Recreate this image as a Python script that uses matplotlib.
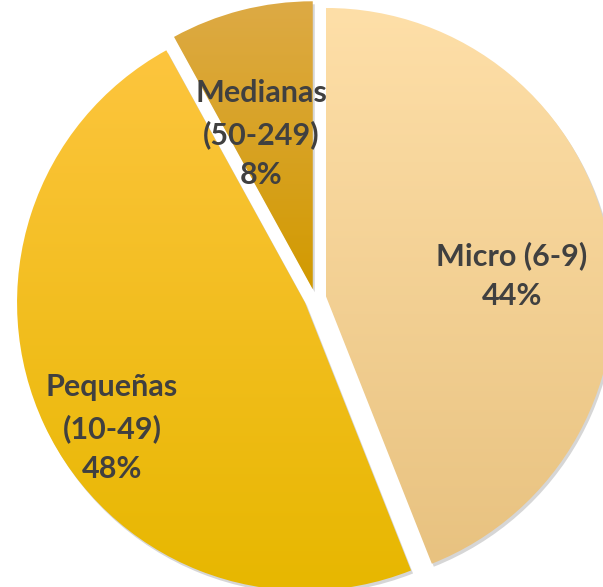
import matplotlib.pyplot as plt
import numpy as np
from matplotlib.colors import LinearSegmentedColormap

plt.rcParams['font.family'] = ['Lato', 'DejaVu Sans']

# datos
categorias = ["Micro (6-9)", "Pequeñas\n(10-49)", "Medianas\n(50-249)"]
porcentajes = [44, 48, 8]
color_arriba = ["#FEDFA8", "#FDC53E", "#DDAA45"]
color_abajo = ["#E8C280", "#E7B700", "#D29A00"]

W, H = 603, 587
cx, cy = 315, H - 298
R = 288

fig = plt.figure(figsize=(W / 100, H / 100), dpi=100)
ax = fig.add_axes([0, 0, 1, 1])

# desplazamiento de las porciones (en pixeles)
explode = [11, 11, 9]

# sombra
sombra, _ = ax.pie(porcentajes, startangle=90, counterclock=False, explode=explode,
                   radius=R, center=(cx + 2, cy - 3), frame=True,
                   wedgeprops=dict(facecolor="#8a8a8a", edgecolor="none", alpha=0.35))

cuñas, _ = ax.pie(porcentajes, startangle=90, counterclock=False, explode=explode,
                  radius=R, center=(cx, cy), frame=True,
                  wedgeprops=dict(facecolor="none", edgecolor="none"))

grad = np.linspace(1, 0, 256).reshape(-1, 1)
for w, c1, c2 in zip(cuñas, color_arriba, color_abajo):
    cmap = LinearSegmentedColormap.from_list("g", [c2, c1])
    bb = w.get_path().get_extents(w.get_transform() - ax.transData)
    im = ax.imshow(grad, cmap=cmap, aspect="auto", vmin=0, vmax=1,
                   extent=[bb.x0, bb.x1, bb.y0, bb.y1], origin="upper", zorder=2)
    im.set_clip_path(w)
    w.set_zorder(3)

ax.set_xlim(0, W)
ax.set_ylim(0, H)
ax.set_aspect("equal")
ax.axis("off")

# etiquetas
pos_etiquetas = [(512, H - 276), (112, H - 428), (261, H - 134)]
for (x, y), cat, p in zip(pos_etiquetas, categorias, porcentajes):
    ax.text(x, y, f"{cat}\n{p}%", ha="center", va="center", fontsize=22,
            fontweight="bold", color="#404040", linespacing=1.52, zorder=5)

fig.savefig("out.png", dpi=100)
